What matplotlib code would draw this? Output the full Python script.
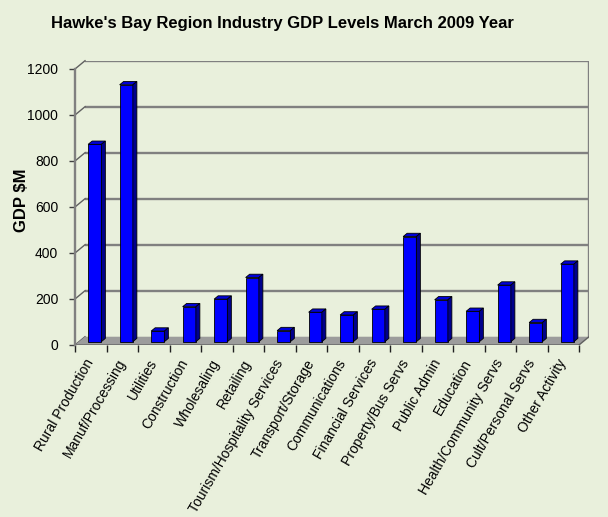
import matplotlib
matplotlib.use("Agg")
import matplotlib.pyplot as plt
from matplotlib.patches import Polygon
from matplotlib.transforms import ScaledTranslation
import numpy as np

plt.rcParams['font.family'] = ['Liberation Sans', 'DejaVu Sans']

title = "Hawke's Bay Region Industry GDP Levels March 2009 Year"
y_label = "GDP $M"
industries = [
    "Rural Production", "Manuf/Processing", "Utilities", "Construction",
    "Wholesaling", "Retailing", "Tourism/Hospitality Services",
    "Transport/Storage", "Communications", "Financial Services",
    "Property/Bus Servs", "Public Admin", "Education",
    "Health/Community Servs", "Cult/Personal Servs", "Other Activity",
]
gdp = [858, 1117, 46, 152, 185, 279, 48, 128, 116, 141, 457, 182, 132, 246, 83, 337]
y_ticks = [0, 200, 400, 600, 800, 1000, 1200]

BG = '#E9F0DC'
GRID = '#808080'
FLOOR = '#9C9C9C'
FRONT = '#0000FF'
TOP = '#0000D8'
SIDE = '#00008C'

W_PX, H_PX, DPI = 608, 517, 100
fig = plt.figure(figsize=(W_PX / DPI, H_PX / DPI), dpi=DPI, facecolor=BG)

n = len(industries)
ymax = y_ticks[-1]
# depth of the 3-D box in data units (x: categories, y: GDP)
DX = 0.3175
DY = 36.0

# axes box in pixels: front axis origin at (75, 345), back wall top at y = 61
left_px, right_px = 75, 75 + (n + DX) * 31.5
bottom_px = 345
top_px = bottom_px - (ymax + DY) * 0.23
ax = fig.add_axes([left_px / W_PX, 1 - bottom_px / H_PX,
                   (right_px - left_px) / W_PX, (bottom_px - top_px) / H_PX])
ax.set_facecolor('none')
ax.set_xlim(0, n + DX)
ax.set_ylim(0, ymax + DY)

# back wall gridlines and border
for v in y_ticks[1:]:
    ax.plot([DX, n + DX], [v + DY, v + DY], color=GRID, lw=1.7, zorder=1,
            solid_capstyle='butt')
ax.plot([n + DX, n + DX], [DY, ymax + DY], color=GRID, lw=1.7, zorder=1)
# left wall: diagonals from front ticks to back wall
for v in y_ticks:
    ax.plot([0, DX], [v, v + DY], color='#606060', lw=1.0, zorder=1,
            clip_on=False)

# floor
floor = Polygon([(0, 0), (n, 0), (n + DX, DY), (DX, DY)], closed=True,
                 facecolor=FLOOR, edgecolor='none', zorder=2)
ax.add_patch(floor)
ax.plot([0, n], [0, 0], color='#707070', lw=2.0, zorder=2.5,
        solid_capstyle='butt')
ax.plot([n, n + DX], [0, DY], color='#606060', lw=1.0, zorder=2.5)

# bars: front face via ax.bar, then top and side faces
f, d, w = 0.4, 0.4, 0.42
base = f * DY
xc = np.arange(n) + 0.5 + f * DX
ax.bar(xc, gdp, width=w, bottom=base, color=FRONT, edgecolor='black',
       linewidth=0.6, zorder=5)
bdx, bdy = d * DX, d * DY
for x, v in zip(xc, gdp):
    l, r = x - w / 2, x + w / 2
    t = base + v
    ax.add_patch(Polygon([(l, t), (r, t), (r + bdx, t + bdy), (l + bdx, t + bdy)],
                         closed=True, facecolor=TOP, edgecolor='black',
                         linewidth=0.6, zorder=5))
    ax.add_patch(Polygon([(r, base), (r + bdx, base + bdy), (r + bdx, t + bdy), (r, t)],
                         closed=True, facecolor=SIDE, edgecolor='black',
                         linewidth=0.6, zorder=5))

# axes spines/ticks
for s in ['top', 'right']:
    ax.spines[s].set_visible(False)
ax.spines['left'].set_bounds(0, ymax)
ax.spines['left'].set_color(GRID)
ax.spines['left'].set_linewidth(1.7)
ax.spines['bottom'].set_visible(False)

ax.set_yticks(y_ticks)
ax.set_yticklabels([str(v) for v in y_ticks], fontsize=10)
ax.tick_params(axis='y', direction='out', length=4, width=1, color='#404040', pad=8)

ax.set_xticks(np.arange(n + 1))
ax.set_xticklabels([])
ax.set_xticks(np.arange(n) + 0.5, minor=True)
ax.set_xticklabels(industries, minor=True, rotation=60, ha='right',
                   rotation_mode='anchor', fontsize=10)
ax.tick_params(axis='x', which='major', direction='out', length=5, width=1,
               color='#202020')
ax.tick_params(axis='x', which='minor', length=0, pad=10)
shift = ScaledTranslation(-0.06, 0.02, fig.dpi_scale_trans)
for lbl in ax.get_xticklabels(minor=True):
    lbl.set_transform(lbl.get_transform() + shift)

fig.text(282 / W_PX, 1 - 23.5 / H_PX, title, ha='center', va='center',
         fontsize=12, fontweight='bold')
fig.text(21.5 / W_PX, 1 - 200 / H_PX, y_label, ha='center', va='center',
         rotation=90, fontsize=12, fontweight='bold')

fig.savefig('out.png', dpi=DPI, facecolor=BG)
